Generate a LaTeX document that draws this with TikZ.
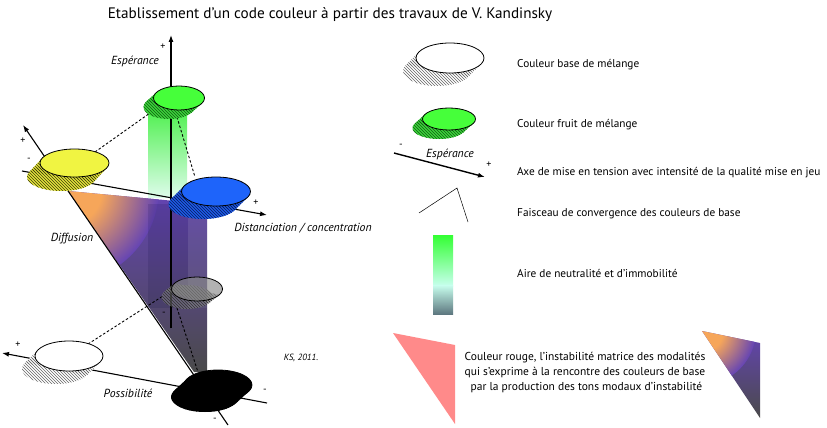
\documentclass[tikz,border=0pt]{standalone}
\usepackage{fontspec}
\setmainfont{PT Sans}
\usetikzlibrary{arrows.meta,patterns,calc}
\definecolor{cGreen}{HTML}{46FF3A}
\definecolor{cGreenSide}{HTML}{3BD63B}
\definecolor{cGreenHatch}{HTML}{145A14}
\definecolor{cYellow}{HTML}{F0F442}
\definecolor{cYellowSide}{HTML}{E2E23C}
\definecolor{cYellowHatch}{HTML}{404008}
\definecolor{cBlue}{HTML}{1E64FA}
\definecolor{cBlueSide}{HTML}{1E5AE6}
\definecolor{cBlueHatch}{HTML}{061E60}
\definecolor{cGrayDisc}{HTML}{8A8A8A}
\definecolor{cOrange}{HTML}{F6A65A}
\definecolor{cPurTop}{HTML}{6444B4}
\definecolor{cPurMid}{HTML}{604E98}
\definecolor{cGrayBot}{HTML}{4A4A4A}
\definecolor{cColTop}{HTML}{50F050}
\definecolor{cColBot}{HTML}{DDFCEA}
\definecolor{cBarTop}{HTML}{33FF33}
\definecolor{cBarMid}{HTML}{C8FFEE}
\definecolor{cBarBot}{HTML}{5E7880}
\definecolor{cPink}{HTML}{FF8A8A}
\pgfdeclareradialshading{orangecorner}{\pgfpoint{0bp}{0bp}}{color(0bp)=(cOrange); color(10bp)=(cOrange); color(25bp)=(cPurTop); color(50bp)=(cPurTop)}
% #1 cx #2 cy #3 rx #4 ry #5 dx #6 dy #7 top style #8 side style #9 hatch colour
\newcommand\drawdisc[9]{%
  \pgfmathsetmacro\dT{atan((-(#4)*(#5))/((#3)*(#6)))}%
  \pgfmathsetmacro\dUx{(#3)*cos(\dT)}%
  \pgfmathsetmacro\dUy{(#4)*sin(\dT)}%
  \path[#8] ({#1+\dUx},{#2+\dUy}) -- ({#1+\dUx+(#5)},{#2+\dUy+(#6)}) -- ({#1-(\dUx)+(#5)},{#2-(\dUy)+(#6)}) -- ({#1-(\dUx)},{#2-(\dUy)}) -- cycle;
  \path[#8] ({#1+(#5)},{#2+(#6)}) ellipse[x radius=#3pt, y radius=#4pt];
  \path[pattern=north west lines, pattern color=#9] ({#1+\dUx},{#2+\dUy}) -- ({#1+\dUx+(#5)},{#2+\dUy+(#6)}) -- ({#1-(\dUx)+(#5)},{#2-(\dUy)+(#6)}) -- ({#1-(\dUx)},{#2-(\dUy)}) -- cycle;
  \path[pattern=north west lines, pattern color=#9] ({#1+(#5)},{#2+(#6)}) ellipse[x radius=#3pt, y radius=#4pt];
  \path[#7, draw=black, line width=0.8pt] (#1,#2) ellipse[x radius=#3pt, y radius=#4pt];
}
\begin{document}
\begin{tikzpicture}[x=1pt,y=-1pt,
  axis/.style={line width=1.1pt,-{Latex[length=7pt,width=5pt]}},
  dashln/.style={line width=0.9pt,dash pattern=on 2.5pt off 2pt},
  lab/.style={font=\itshape\fontsize{11.7}{13}\selectfont,inner sep=0pt},
  sgn/.style={font=\fontsize{10}{11}\selectfont,inner sep=0pt},
  legtxt/.style={anchor=west,font=\fontsize{11.3}{13}\selectfont,inner sep=0pt}]
\useasboundingbox (0,0) rectangle (827,428);
\fill[white] (0,0) rectangle (827,428);

% title
\node[font=\fontsize{15.2}{17}\selectfont,inner sep=0pt] (title) at (330,15) {Etablissement d’un code couleur à partir des travaux de V. Kandinsky};

% green column
\shade[top color=cColTop,bottom color=cColBot] (148,110) rectangle (187,197);

% big triangle
\shade[top color=cPurTop,middle color=cPurMid,bottom color=cGrayBot] (68,191) -- (207,204) -- (207,372) -- (194,372) -- cycle;
\begin{scope}
  \clip (68,191) -- (207,204) -- (207,372) -- (194,372) -- cycle;
  \shade[shading=orangecorner] (64,188) circle[radius=95pt];
\end{scope}
% projection column
\fill[fill=black!60!blue!50!black,fill opacity=0.12] (148,204) rectangle (207,308);
\fill[white,fill opacity=0.10] (188,204) rectangle (207,308);

% axes
\coordinate (vTop) at (171,35); \coordinate (vBot) at (171,328);
\coordinate (dS) at (22,171); \coordinate (dE) at (267,215);
\coordinate (fS) at (228,425); \coordinate (fE) at (23,125);
\coordinate (pS) at (267,403); \coordinate (pE) at (2,353);
\draw[axis] (vBot) -- (vTop);
\draw[axis] (dS) -- (dE);
\draw[axis] (fS) -- (fE);
\draw[axis] (pS) -- (pE);

% convergence dashed lines
\coordinate (y1) at (95,152); \coordinate (g1) at (150,113);
\coordinate (g2) at (177,117); \coordinate (b1) at (195,177);
\coordinate (w1) at (88,344); \coordinate (r1) at (163,296);
\coordinate (r2) at (177,308); \coordinate (k1) at (198,372);
\draw[dashln] (y1) -- (g1);
\draw[dashln] (g2) -- (b1);
\draw[dashln] (w1) -- (r1);
\draw[dashln] (r2) -- (k1);

% discs
\drawdisc{179}{98}{25.5}{12}{-10}{9}{fill=cGreen}{fill=cGreenSide}{cGreenHatch}
\drawdisc{74.5}{163}{34.5}{14}{-13}{14}{fill=cYellow}{fill=cYellowSide}{cYellowHatch}
\drawdisc{216}{191.5}{34.5}{14.5}{-13}{13}{fill=cBlue}{fill=cBlueSide}{cBlueHatch}
\drawdisc{197}{289}{25.5}{12}{-10}{8}{fill=cGrayDisc,fill opacity=0.65}{fill=cGrayDisc,fill opacity=0.5}{black!80}
\drawdisc{69}{356}{34}{15}{-13}{13}{fill=white}{fill=white}{black!60}
\drawdisc{218}{385}{34}{15}{-13}{12}{fill=black}{fill=black}{black}

% labels
\node[lab] (lEsp) at (135,61) {Espérance};
\node[lab] (lDist) at (303,228) {Distanciation / concentration};
\node[lab] (lDiff) at (72,239) {Diffusion};
\node[lab] (lPoss) at (128,393) {Possibilité};
\node[font=\itshape\fontsize{9}{10}\selectfont,inner sep=0pt] (ks) at (301,358) {KS, 2011.};
\node[sgn] (s1) at (163,47) {+};
\node[sgn] (s2) at (23,141) {+};
\node[sgn] (s3) at (29,160) {-};
\node[sgn] (s4) at (256,203) {+};
\node[sgn] (s5) at (164,314) {-};
\node[sgn] (s6) at (18,345) {+};
\node[sgn] (s7) at (265,391) {-};
\node[sgn] (s8) at (215,420) {-};

% legend
\drawdisc{450}{58}{34}{15}{-13}{13}{fill=white}{fill=white}{black!60}
\node[legtxt] (t1) at (517,65) {Couleur base de mélange};
\drawdisc{449}{119}{26.5}{11}{-10}{9}{fill=cGreen}{fill=cGreenSide}{cGreenHatch}
\node[legtxt] (t2) at (517,125) {Couleur fruit de mélange};
\coordinate (la1) at (394,153); \coordinate (la2) at (485,177);
\draw[line width=1.4pt,-{Latex[length=7pt,width=5pt]}] (la1) -- (la2);
\node[sgn] (ls1) at (401,146) {-};
\node[sgn] (ls2) at (489,165) {+};
\node[lab] (lEsp2) at (450,154) {Espérance};
\node[legtxt] (t3) at (517,173) {Axe de mise en tension avec intensité de la qualité mise en jeu};
\coordinate (lc1) at (419,213); \coordinate (lc2) at (457,188); \coordinate (lc3) at (468,222);
\draw[line width=0.5pt] (lc1) -- (lc2) -- (lc3);
\node[legtxt] (t4) at (517,214) {Faisceau de convergence des couleurs de base};
\shade[top color=cBarTop,bottom color=cBarMid] (433,235) rectangle (453,286);
\shade[top color=cBarMid,bottom color=cBarBot] (433,285) rectangle (453,314);
\node[legtxt] (t5) at (517,273) {Aire de neutralité et d’immobilité};
\fill[cPink] (393,333) -- (455,345) -- (455,424) -- cycle;
\node[font=\fontsize{11.5}{15}\selectfont,align=center,inner sep=0pt] (t6) at (585,373) {Couleur rouge, l’instabilité matrice des modalités\\qui s’exprime à la rencontre des couleurs de base\\\hspace*{3pt}par la production des tons modaux d’instabilité};
\shade[top color=cPurTop,middle color=cPurMid,bottom color=cGrayBot] (702,331) -- (760,343) -- (760,418) -- cycle;
\begin{scope}
  \clip (702,331) -- (760,343) -- (760,418) -- cycle;
  \shade[shading=orangecorner] (701,330) circle[radius=55pt];
\end{scope}
\end{tikzpicture}
\end{document}
